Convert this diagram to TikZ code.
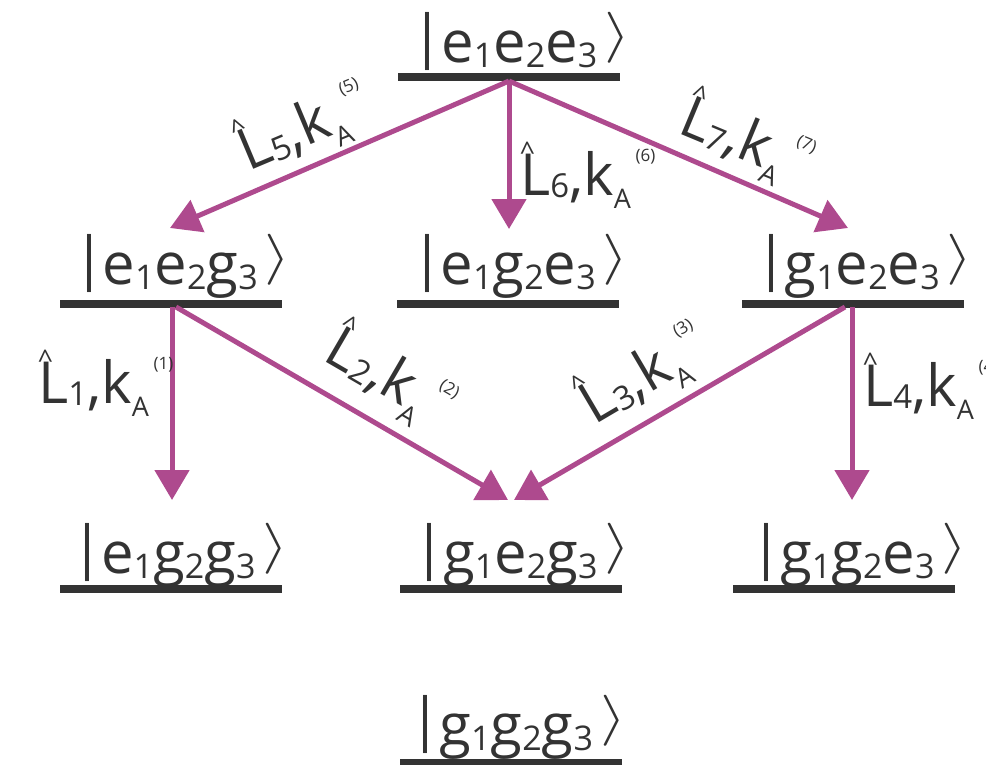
\documentclass[tikz,border=0pt]{standalone}
\usepackage{fontspec}
\setmainfont{Open Sans}
\usetikzlibrary{arrows.meta}
\definecolor{ink}{HTML}{333333}
\definecolor{mag}{HTML}{AE4A8E}
\newcommand{\dg}[1]{\raisebox{-0.09em}{\fontsize{34}{34}\selectfont #1}}
\newcommand{\rket}{\raisebox{0.19em}{\resizebox*{0.45em}{0.88em}{$\rangle$}}}
\newcommand{\myket}[6]{\raisebox{0.1em}{|}\hspace{-0.04em}#1\dg{#2}#3\dg{#4}#5\dg{#6}\hspace{0.12em}\rket}
\newcommand{\lab}[1]{\makebox[0pt][l]{\hspace{0.0em}\raisebox{0.58em}{\fontsize{27}{27}\selectfont\textasciicircum}}L\raisebox{-0.05em}{\fontsize{33}{33}\selectfont #1},k\raisebox{-0.24em}{\fontsize{27}{27}\selectfont A}\hspace{0.08em}\raisebox{0.58em}{\fontsize{17}{17}\selectfont (#1)}}
\begin{document}
\begin{tikzpicture}[x=1pt,y=-1pt]
\useasboundingbox (0,0) rectangle (986,764);
\tikzset{
  levelbar/.style={fill=ink, inner sep=0pt, minimum height=8pt, minimum width=222pt},
  kettext/.style={text=ink, font=\fontsize{58}{60}\selectfont, inner sep=0pt, anchor=base},
  trans/.style={draw=mag, line width=5pt, -{Triangle[length=30pt,width=34pt]}},
  ratelab/.style={text=ink, font=\fontsize{58}{60}\selectfont, inner sep=0pt},
}
% level bars
\node[levelbar] (b0) at (508.5,77) {};
\node[levelbar] (b1) at (171,304) {};
\node[levelbar] (b2) at (507.5,304) {};
\node[levelbar] (b3) at (852.5,304) {};
\node[levelbar] (b4) at (171,589) {};
\node[levelbar] (b5) at (511,589) {};
\node[levelbar] (b6) at (843.5,589) {};
\node[levelbar] (b7) at (511,763) {};
% kets
\node[kettext] (k0) at (521,62) {\myket{e}{1}{e}{2}{e}{3}};
\node[kettext] (k1) at (182,284) {\myket{e}{1}{e}{2}{g}{3}};
\node[kettext] (k2) at (520,284) {\myket{e}{1}{g}{2}{e}{3}};
\node[kettext] (k3) at (864,284) {\myket{g}{1}{e}{2}{e}{3}};
\node[kettext] (k4) at (180,573) {\myket{e}{1}{g}{2}{g}{3}};
\node[kettext] (k5) at (522,573) {\myket{g}{1}{e}{2}{g}{3}};
\node[kettext] (k6) at (859,573) {\myket{g}{1}{g}{2}{e}{3}};
\node[kettext] (k7) at (518,745) {\myket{g}{1}{g}{2}{g}{3}};
% arrow anchor points
\coordinate (s0) at (509,81);
\coordinate (t5) at (170,228);
\coordinate (t6) at (509,229);
\coordinate (t7) at (848,228);
\coordinate (s1) at (172,307);
\coordinate (s1b) at (176,307);
\coordinate (s3) at (845,307);
\coordinate (s3b) at (852,307);
\coordinate (t1) at (172,500);
\coordinate (t2) at (508,500);
\coordinate (t3) at (514,500);
\coordinate (t4) at (852,500);
\draw[trans] (s0) -- (t5);
\draw[trans] (s0) -- (t6);
\draw[trans] (s0) -- (t7);
\draw[trans] (s1) -- (t1);
\draw[trans] (s1b) -- (t2);
\draw[trans] (s3) -- (t3);
\draw[trans] (s3b) -- (t4);
% labels
\node[ratelab, rotate=22.8] (l5) at (303,127) {\lab{5}};
\node[ratelab, anchor=base west] (l6) at (520,195) {\lab{6}};
\node[ratelab, rotate=-22.6] (l7) at (746,140) {\lab{7}};
\node[ratelab, anchor=base west] (l1) at (38,403) {\lab{1}};
\node[ratelab, rotate=-30.2] (l2) at (390,377) {\lab{2}};
\node[ratelab, rotate=30.5] (l3) at (643,374) {\lab{3}};
\node[ratelab, anchor=base west] (l4) at (863,406) {\lab{4}};
\end{tikzpicture}
\end{document}
